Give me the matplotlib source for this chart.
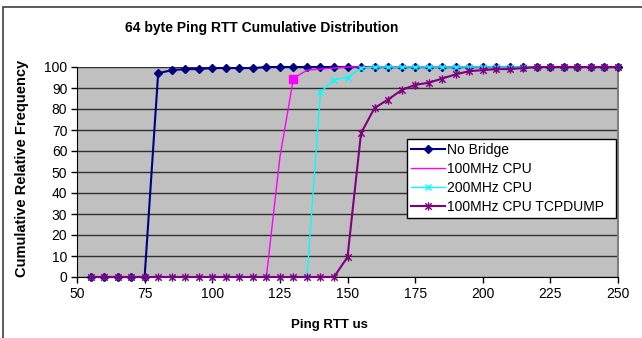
import matplotlib
matplotlib.use('Agg')
import matplotlib.pyplot as plt
from matplotlib.path import Path
from matplotlib.patches import Rectangle
from matplotlib.lines import Line2D

plt.rcParams['font.family'] = ['Liberation Sans', 'DejaVu Sans']

rtt = [55, 60, 65, 70, 75, 80, 85, 90, 95, 100, 105, 110, 115, 120, 125, 130, 135, 140,
       145, 150, 155, 160, 165, 170, 175, 180, 185, 190, 195, 200, 205, 210, 215, 220,
       225, 230, 235, 240, 245, 250]

no_bridge = [0, 0, 0, 0, 0, 97, 98.5, 99, 99, 99.5, 99.5, 99.5, 99.5, 100, 100, 100, 100, 100,
             100, 100, 100, 100, 100, 100, 100, 100, 100, 100, 100, 100, 100, 100, 100, 100,
             100, 100, 100, 100, 100, 100]
cpu100 = [0, 0, 0, 0, 0, 0, 0, 0, 0, 0, 0, 0, 0, 0, 57, 94.5, 98.5, 99,
          99.5, 100, 100, 100, 100, 100, 100, 100, 100, 100, 100, 100, 100, 100, 100, 100,
          100, 100, 100, 100, 100, 100]
cpu200 = [0, 0, 0, 0, 0, 0, 0, 0, 0, 0, 0, 0, 0, 0, 0, 0, 0, 88,
          94, 95, 99.5, 100, 100, 100, 100, 100, 100, 100, 100, 100, 100, 100, 100, 100,
          100, 100, 100, 100, 100, 100]
tcpdump = [0, 0, 0, 0, 0, 0, 0, 0, 0, 0, 0, 0, 0, 0, 0, 0, 0, 0,
           0, 9.5, 68.5, 80.5, 84.5, 89, 91.5, 92.5, 94.5, 96.5, 98, 98.5, 99, 99, 99.5, 100,
           100, 100, 100, 100, 100, 100]

labels = ['No Bridge', '100MHz CPU', '200MHz CPU', '100MHz CPU TCPDUMP']

# excel style star: an x with a vertical bar through it
star = Path([(-1, -1), (1, 1), (-1, 1), (1, -1), (0, -1.3), (0, 1.3)],
            [Path.MOVETO, Path.LINETO, Path.MOVETO, Path.LINETO, Path.MOVETO, Path.LINETO])

fig = plt.figure(figsize=(6.42, 3.38), dpi=100)
fig.patches.append(Rectangle((3 / 642, -0.1), 1.2, 1 - 7 / 338 + 0.1, transform=fig.transFigure,
                             fill=False, edgecolor='#404040', linewidth=1.2))

ax = fig.add_axes([77 / 642, 1 - 277 / 338, 541 / 642, 210 / 338])
ax.set_facecolor('#C0C0C0')

styles = [
    dict(color='#000080', linewidth=1.5, marker='D', markersize=4),
    dict(color='#FF00FF', linewidth=1.0),
    dict(color='#00FFFF', linewidth=1.0, marker='x', markersize=5, markeredgewidth=1.0),
    dict(color='#800080', linewidth=1.5, marker=star, markersize=6, markeredgewidth=1.0),
]

ax.plot(rtt, no_bridge, clip_on=False, zorder=3, **styles[0])
ax.plot(rtt, cpu100, marker='s', markersize=6, markevery=[rtt.index(130)],
        clip_on=False, zorder=4, **styles[1])
ax.plot(rtt, cpu200, clip_on=False, zorder=5, **styles[2])
ax.plot(rtt, tcpdump, clip_on=False, zorder=6, **styles[3])

ax.set_xlim(50, 250)
ax.set_ylim(0, 100)
ax.set_xticks([50, 75, 100, 125, 150, 175, 200, 225, 250])
ax.set_yticks(range(0, 101, 10))
ax.yaxis.grid(True, color='#303030', linewidth=1.0)
ax.set_axisbelow(True)
ax.tick_params(direction='out', length=4, width=1, labelsize=10, colors='black')
ax.tick_params(axis='y', pad=3)

for side in ['left', 'bottom']:
    ax.spines[side].set_color('black')
ax.spines['top'].set_visible(False)
ax.spines['right'].set_color('#808080')
ax.spines['right'].set_linewidth(1.5)

fig.text(262 / 642, 1 - 28 / 338, '64 byte Ping RTT Cumulative Distribution',
         fontsize=10, fontweight='bold', ha='center', va='center')
fig.text(22 / 642, 1 - 168 / 338, 'Cumulative Relative Frequency', rotation=90,
         fontsize=10.5, fontweight='bold', ha='center', va='center')
fig.text(329 / 642, 1 - 325 / 338, 'Ping RTT us',
         fontsize=9.5, fontweight='bold', ha='center', va='center')

handles = [Line2D([], [], **s) for s in styles]
leg = ax.legend(handles, labels, loc='upper left', bbox_to_anchor=(0.61, 0.276, 0.386, 0.381),
                mode='expand', fontsize=10, frameon=True, fancybox=False, borderpad=0.3,
                labelspacing=0.35, handlelength=2.4, handletextpad=0.2, borderaxespad=0)
leg.get_frame().set_edgecolor('black')
leg.get_frame().set_linewidth(1.0)
leg.get_frame().set_facecolor('white')
leg.get_frame().set_alpha(1)
leg.set_zorder(10)

plt.savefig('out.png', dpi=100)
